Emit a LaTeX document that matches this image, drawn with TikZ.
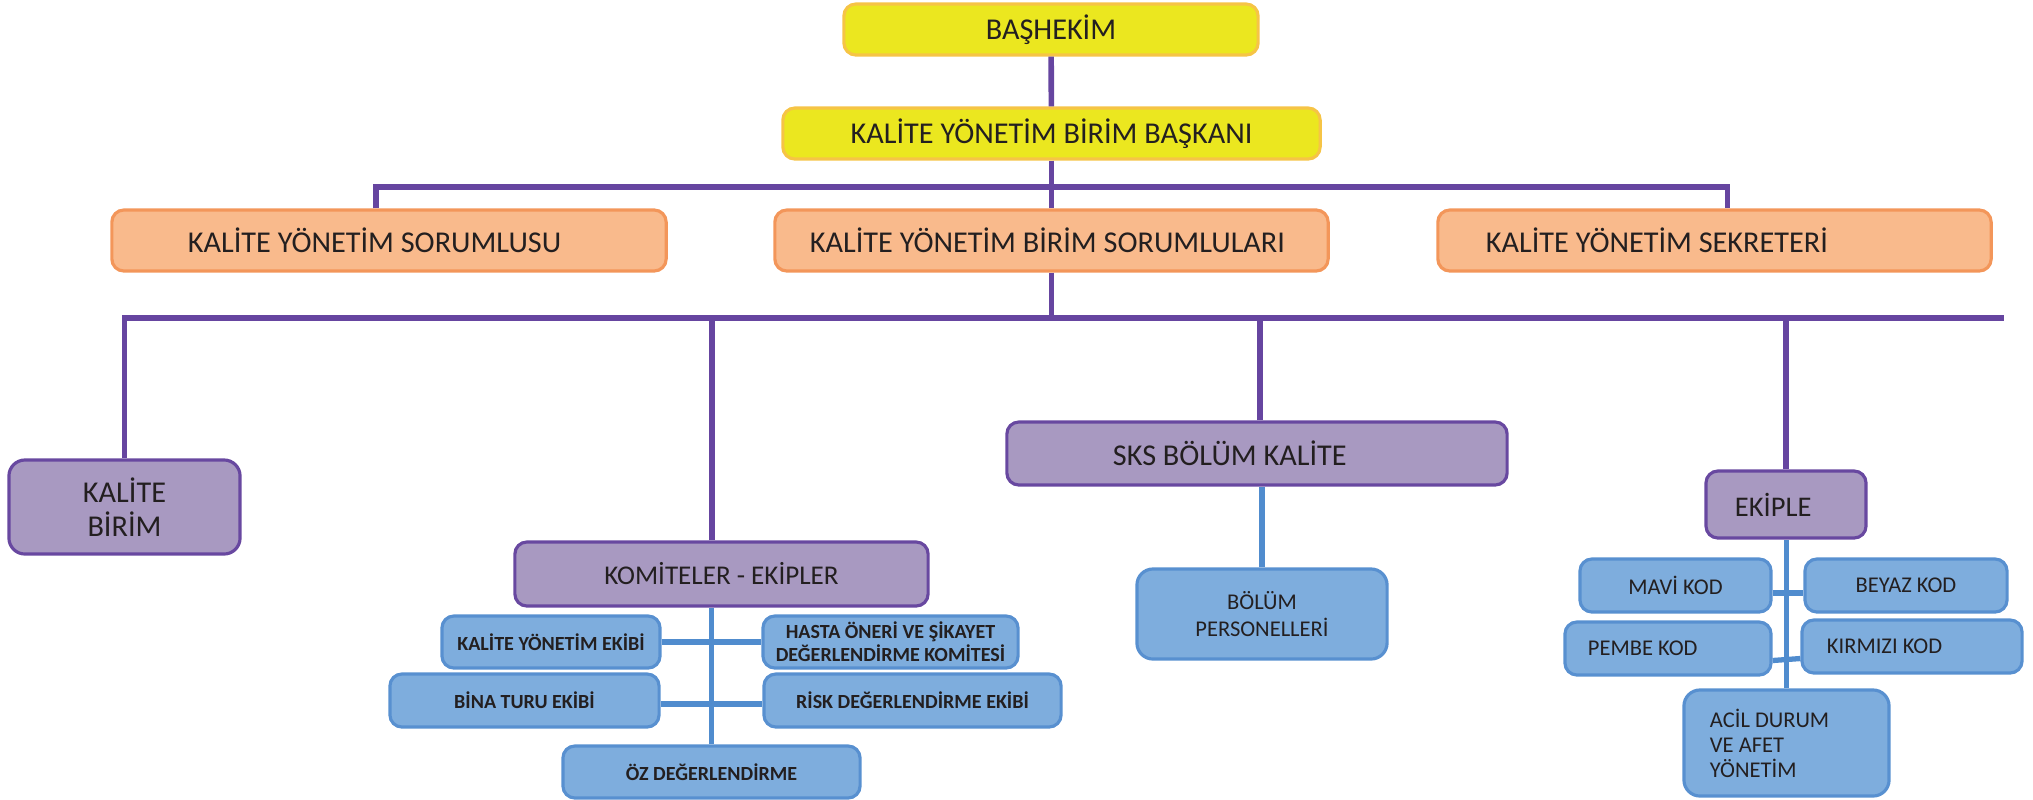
\documentclass[tikz,border=0pt]{standalone}
\usepackage{fontspec}
\setmainfont{Carlito}
\usepackage{tikz}

\definecolor{ink}{RGB}{35,31,32}
\definecolor{yelfill}{RGB}{235,231,31}
\definecolor{yeldraw}{RGB}{246,196,70}
\definecolor{orfill}{RGB}{249,186,140}
\definecolor{ordraw}{RGB}{243,150,90}
\definecolor{pufill}{RGB}{168,153,193}
\definecolor{pudraw}{RGB}{104,72,160}
\definecolor{blfill}{RGB}{126,173,221}
\definecolor{bldraw}{RGB}{88,144,208}
\definecolor{trunkcol}{RGB}{102,69,160}
\definecolor{twigcol}{RGB}{80,140,206}

\tikzset{
    box/.style={rounded corners=0.12cm, line width=0.9pt, inner sep=0pt, text=ink, align=center},
    yelbox/.style={box, fill=yelfill, draw=yeldraw, font=\fontsize{8.6}{10}\selectfont},
    orbox/.style={box, fill=orfill, draw=ordraw, font=\fontsize{8.6}{10}\selectfont},
    pubox/.style={box, fill=pufill, draw=pudraw, font=\fontsize{8.6}{9.7}\selectfont},
    blbox/.style={box, fill=blfill, draw=bldraw, font=\fontsize{6.4}{7.6}\selectfont},
    teambox/.style={blbox, font=\bfseries\fontsize{5.7}{6.5}\selectfont},
    trunk/.style={draw=trunkcol, line width=1.6pt},
    twig/.style={draw=twigcol, line width=1.5pt}
}

\begin{document}
\begin{tikzpicture}[x=0.01cm, y=-0.01cm]
        \useasboundingbox (0,0) rectangle (2033,799);
        \node [yelbox, minimum width=4.14cm, minimum height=0.51cm] (bashekim) at (1051,29.5) {BAŞHEKİM};
        \node [yelbox, minimum width=5.37cm, minimum height=0.51cm] (baskan) at (1051.5,133.5) {KALİTE YÖNETİM BİRİM BAŞKANI};
        \node [orbox, minimum height=0.61cm, inner xsep=0.76cm, text width=4.02cm, align=flush left] (sorumlu) at (389,240.5) {KALİTE YÖNETİM SORUMLUSU};
        \node [orbox, minimum height=0.61cm, inner xsep=0.35cm, text width=4.83cm, align=flush left] (birimsor) at (1051.5,240.5) {KALİTE YÖNETİM BİRİM SORUMLULARI};
        \node [orbox, minimum height=0.61cm, inner xsep=0.48cm, text width=4.57cm, align=flush left] (sekreter) at (1714.5,240.5) {KALİTE YÖNETİM SEKRETERİ};
        \node [pubox, minimum width=2.31cm, minimum height=0.94cm, rounded corners=0.16cm] (birim) at (124.5,507) {KALİTE\\BİRİM};
        \node [pubox, minimum width=4.13cm, minimum height=0.64cm, font=\fontsize{7.7}{9}\selectfont] (komite) at (721.5,574) {KOMİTELER - EKİPLER};
        \node [pubox, minimum height=0.63cm, inner xsep=1.06cm, text width=2.88cm, align=flush left] (sks) at (1257,453.5) {SKS BÖLÜM KALİTE};
        \node [pubox, minimum height=0.67cm, inner xsep=0.29cm, text width=1.02cm, align=flush left, font=\fontsize{8.1}{9}\selectfont] (ekiple) at (1786,504.5) {EKİPLE};
        \node [teambox, minimum width=2.18cm, minimum height=0.52cm] (yonekip) at (551,642) {KALİTE YÖNETİM EKİBİ};
        \node [teambox, minimum width=2.55cm, minimum height=0.52cm] (hasta) at (890.5,642) {HASTA ÖNERİ VE ŞİKAYET\\DEĞERLENDİRME KOMİTESİ};
        \node [teambox, minimum width=2.69cm, minimum height=0.53cm] (bina) at (524.5,700.5) {BİNA TURU EKİBİ};
        \node [teambox, minimum width=2.97cm, minimum height=0.53cm] (risk) at (912.5,700.5) {RİSK DEĞERLENDİRME EKİBİ};
        \node [teambox, minimum width=2.97cm, minimum height=0.52cm] (oz) at (711.5,772) {ÖZ DEĞERLENDİRME};
        \node [blbox, minimum width=2.5cm, minimum height=0.9cm, rounded corners=0.16cm] (personel) at (1262,614) {BÖLÜM\\PERSONELLERİ};
        \node [blbox, minimum width=1.91cm, minimum height=0.53cm] (mavi) at (1675.5,585.5) {MAVİ KOD};
        \node [blbox, minimum width=2.02cm, minimum height=0.53cm] (beyaz) at (1906,585.5) {BEYAZ KOD};
        \node [blbox, minimum height=0.53cm, inner xsep=0.23cm, text width=1.6cm, align=flush left] (pembe) at (1668,648.5) {PEMBE KOD};
        \node [blbox, minimum height=0.53cm, inner xsep=0.25cm, text width=1.7cm, align=flush left] (kirmizi) at (1912,646.5) {KIRMIZI KOD};
        \node [blbox, minimum height=1.06cm, inner xsep=0.26cm, text width=1.53cm, align=flush left, rounded corners=0.16cm, font=\fontsize{6.4}{7.1}\selectfont] (acil) at (1786.5,743) {ACİL DURUM\\VE AFET\\YÖNETİM};
        \coordinate (bus1) at (1051,187);
        \coordinate (bus2) at (2004,318);
        \draw [trunk] (bashekim) -- (baskan);
        \draw [trunk] (baskan) -- (birimsor);
        \draw [trunk] ([xshift=-0.13cm]sorumlu.north) |- (bus1) -| ([xshift=0.13cm]sekreter.north);
        \draw [trunk] (birim.north) |- (bus2);
        \draw [trunk] (birimsor.south) -- (birimsor.south |- bus2);
        \draw [trunk] ([xshift=-0.095cm]komite.north) -- ([xshift=-0.095cm]komite.north |- bus2);
        \draw [trunk] ([xshift=0.03cm]sks.north) -- ([xshift=0.03cm]sks.north |- bus2);
        \draw [trunk] (ekiple.north) -- (ekiple.north |- bus2);
        \draw [twig] (oz.north) -- (oz.north |- komite.south);
        \draw [twig] (yonekip) -- (hasta);
        \draw [twig] ([yshift=-0.035cm]bina.east) -- ([yshift=-0.035cm]risk.west);
        \draw [twig] (personel) -- (personel |- sks.south);
        \draw [twig] (acil) -- (acil |- ekiple.south);
        \draw [twig] ([yshift=-0.075cm]mavi.east) -- ([yshift=-0.075cm]beyaz.west);
        \draw [twig] ([yshift=-0.12cm]pembe.east) -- ([yshift=-0.12cm]kirmizi.west);
    \end{tikzpicture}
\end{document}
